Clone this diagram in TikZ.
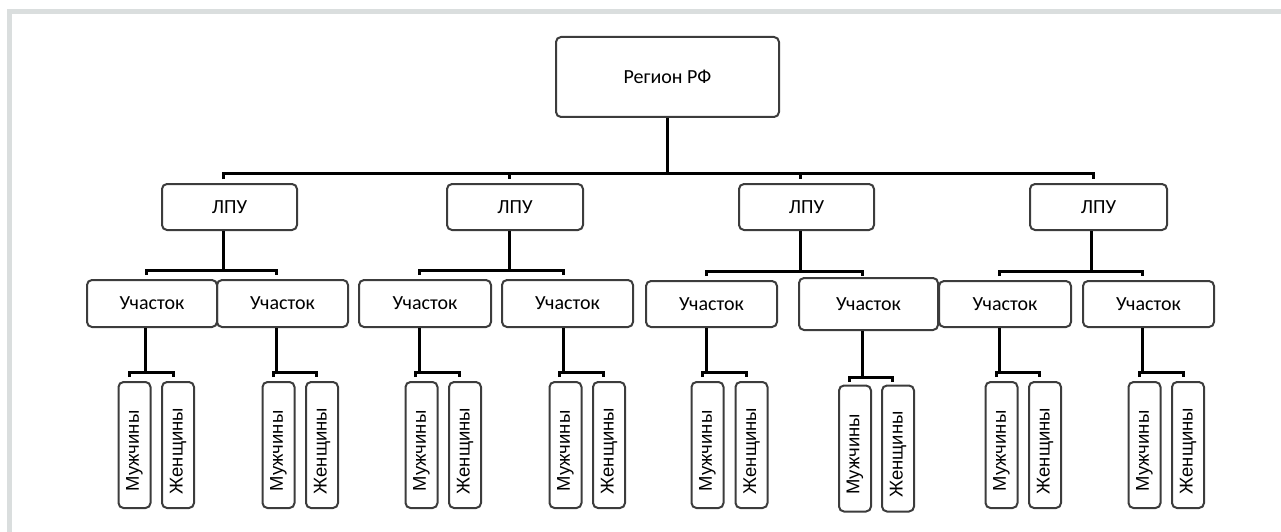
\documentclass[tikz,border=0pt]{standalone}
\usepackage{fontspec}
\setmainfont{Carlito}
\newfontfamily\arialf{Liberation Sans}
\usetikzlibrary{calc}
\definecolor{framegray}{HTML}{DADEDE}
\definecolor{boxline}{HTML}{3C3C3C}
\tikzset{
  box/.style={draw=boxline, line width=2pt, rounded corners=5pt, inner sep=0pt, font=\fontsize{20}{24}\selectfont},
  region/.style={box, minimum width=223pt, minimum height=80pt},
  lpu/.style={box, minimum width=135pt, minimum height=46pt},
  uch/.style={box, minimum width=131pt, minimum height=47pt},
  leaf/.style={box, minimum width=32pt, minimum height=126pt, font=\arialf\fontsize{18.5}{22}\selectfont},
  conn/.style={line width=3pt, black},
}
\newcommand{\vtext}[1]{\rotatebox{90}{#1\hspace*{12pt}}}
\begin{document}
\begin{tikzpicture}[x=1pt, y=-1pt]
\useasboundingbox (0,0) rectangle (1281,532);
% frame (top and left edges)
\fill[framegray] (7,9) rectangle (1281,14);
\fill[framegray] (7,9) rectangle (12,532);

% nodes
\node[region] (reg) at (667.5,77) {Регион РФ};

\node[lpu] (l1) at (229.5,207) {ЛПУ};
\node[lpu, minimum width=136pt] (l2) at (515,207) {ЛПУ};
\node[lpu] (l3) at (806.5,207) {ЛПУ};
\node[lpu, minimum width=137pt] (l4) at (1098.5,207) {ЛПУ};

\node[uch, minimum width=130pt] (u1) at (152,303.5) {Участок};
\node[uch] (u2) at (282.5,303.5) {Участок};
\node[uch, minimum width=132pt] (u3) at (425,303.5) {Участок};
\node[uch] (u4) at (567.5,303.5) {Участок};
\node[uch, minimum height=46pt] (u5) at (711.5,304) {Участок};
\node[uch, minimum width=139pt, minimum height=52pt] (u6) at (868.5,304) {Участок};
\node[uch, minimum width=132pt, minimum height=46pt] (u7) at (1005,304) {Участок};
\node[uch, minimum height=46pt] (u8) at (1148.5,304) {Участок};

\node[leaf] (m1) at (134.5,445) {\vtext{Мужчины}};
\node[leaf] (w1) at (178,445) {\vtext{Женщины}};
\node[leaf] (m2) at (278.5,445) {\vtext{Мужчины}};
\node[leaf] (w2) at (322,445) {\vtext{Женщины}};
\node[leaf] (m3) at (421.5,445) {\vtext{Мужчины}};
\node[leaf] (w3) at (465,445) {\vtext{Женщины}};
\node[leaf] (m4) at (565.5,445) {\vtext{Мужчины}};
\node[leaf] (w4) at (609,445) {\vtext{Женщины}};
\node[leaf] (m5) at (707.5,445) {\vtext{Мужчины}};
\node[leaf] (w5) at (751.5,445) {\vtext{Женщины}};
\node[leaf] (m6) at (855,448.5) {\vtext{Мужчины}};
\node[leaf] (w6) at (898,448.5) {\vtext{Женщины}};
\node[leaf] (m7) at (1001.5,445) {\vtext{Мужчины}};
\node[leaf] (w7) at (1045,445) {\vtext{Женщины}};
\node[leaf] (m8) at (1144.5,445) {\vtext{Мужчины}};
\node[leaf] (w8) at (1188,445) {\vtext{Женщины}};

% junction coordinates
\coordinate (tb) at (667,173);
\coordinate (ta) at (223,173);
\coordinate (tz) at (1093,173);

% region -> LPU bar
\draw[conn] (reg.south -| tb) -- (tb);
\draw[conn] ($(ta)+(0,6)$) -- (ta) -- (tz) -- ($(tz)+(0,6)$);
\foreach \x in {509,800} { \draw[conn] (\x,173) -- (\x,179); }

% LPU -> Участок
\foreach \l/\cx/\a/\b/\y in {l1/223/146/276/270, l2/509/419/563/270, l3/800/706/862/271, l4/1091/999/1142/271} {
  \coordinate (j\l) at (\cx,\y);
  \draw[conn] (\l.south -| j\l) -- (j\l);
  \coordinate (a\l) at (\a,\y);
  \coordinate (b\l) at (\b,\y);
  \draw[conn] ($(a\l)+(0,5)$) -- (a\l) -- (b\l) -- ($(b\l)+(0,5)$);
}

% Участок -> leaves
\foreach \u/\cx/\a/\b/\y in {u1/145/129/173/372, u2/276/273/316/372, u3/419/415/459/372, u4/563/559/603/372, u5/706/702/746/372, u6/862/849/892/377, u7/999/996/1039/372, u8/1142/1139/1183/372} {
  \coordinate (k\u) at (\cx,\y);
  \draw[conn] (\u.south -| k\u) -- (k\u);
  \coordinate (p\u) at (\a,\y);
  \coordinate (q\u) at (\b,\y);
  \draw[conn] ($(p\u)+(0,5)$) -- (p\u) -- (q\u) -- ($(q\u)+(0,5)$);
}
\end{tikzpicture}
\end{document}
